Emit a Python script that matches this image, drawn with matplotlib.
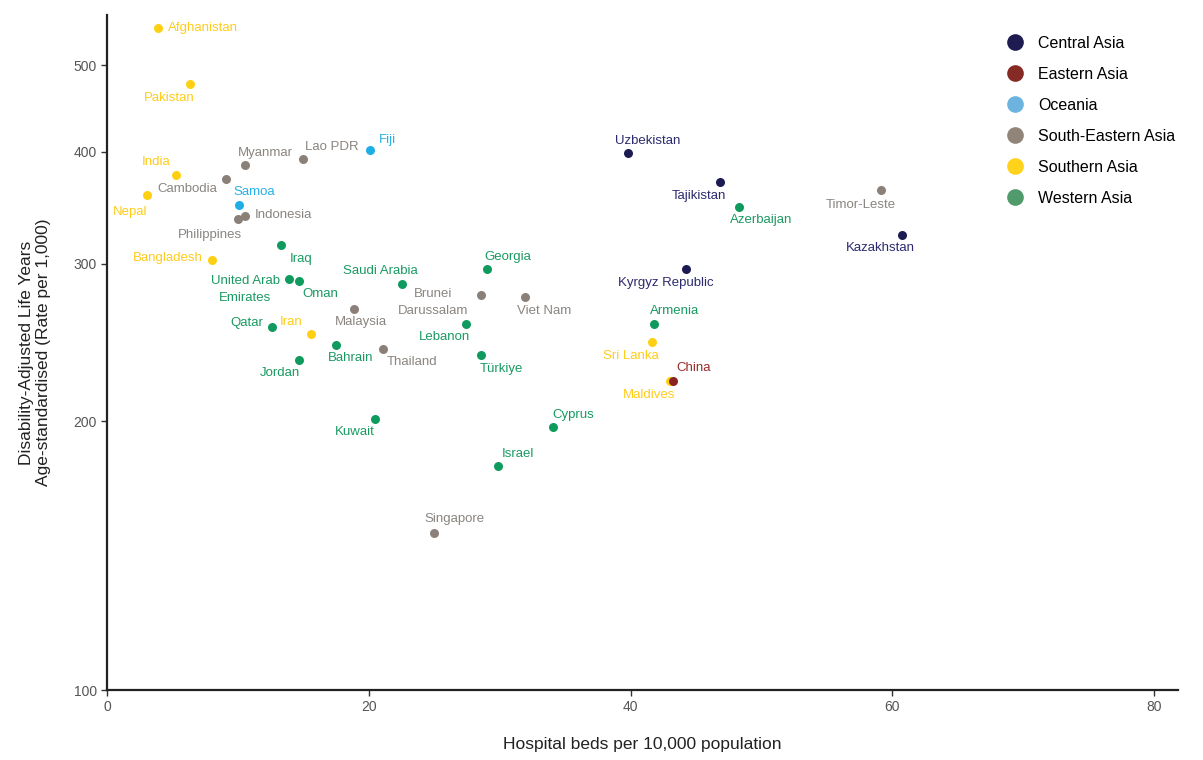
import matplotlib.pyplot as plt
from matplotlib.lines import Line2D

plt.rcParams['font.family'] = ['Liberation Sans', 'DejaVu Sans']

# Hospital beds (per 10,000) vs DALYs (age-standardised rate per 1,000)
countries = ['Afghanistan', 'Pakistan', 'India', 'Nepal', 'Bangladesh', 'Iran',
             'Sri Lanka', 'Maldives', 'China', 'Myanmar', 'Lao PDR', 'Cambodia',
             'Indonesia', 'Philippines', 'Malaysia', 'Thailand', 'Brunei\nDarussalam',
             'Viet Nam', 'Singapore', 'Timor-Leste', 'Samoa', 'Fiji', 'Uzbekistan',
             'Tajikistan', 'Kazakhstan', 'Kyrgyz Republic', 'Azerbaijan', 'Armenia',
             'Georgia', 'Saudi Arabia', 'Iraq', 'United Arab\nEmirates', 'Oman',
             'Qatar', 'Jordan', 'Bahrain', 'Lebanon', 'Türkiye', 'Kuwait', 'Cyprus',
             'Israel']
regions = ['Southern Asia', 'Southern Asia', 'Southern Asia', 'Southern Asia',
           'Southern Asia', 'Southern Asia', 'Southern Asia', 'Southern Asia',
           'Eastern Asia', 'South-Eastern Asia', 'South-Eastern Asia',
           'South-Eastern Asia', 'South-Eastern Asia', 'South-Eastern Asia',
           'South-Eastern Asia', 'South-Eastern Asia', 'South-Eastern Asia',
           'South-Eastern Asia', 'South-Eastern Asia', 'South-Eastern Asia',
           'Oceania', 'Oceania', 'Central Asia', 'Central Asia', 'Central Asia',
           'Central Asia', 'Western Asia', 'Western Asia', 'Western Asia',
           'Western Asia', 'Western Asia', 'Western Asia', 'Western Asia',
           'Western Asia', 'Western Asia', 'Western Asia', 'Western Asia',
           'Western Asia', 'Western Asia', 'Western Asia', 'Western Asia']
beds = [3.9, 6.3, 5.3, 3.05, 8.0, 15.6, 41.6, 43.0, 43.2, 10.5, 15.0, 9.1,
        10.5, 10.0, 18.9, 21.1, 28.6, 31.9, 25.0, 59.1, 10.1, 20.1, 39.8,
        46.8, 60.7, 44.2, 48.3, 41.8, 29.0, 22.5, 13.3, 13.9, 14.7, 12.6,
        14.7, 17.5, 27.4, 28.6, 20.5, 34.1, 29.9]
daly = [551, 477, 377, 358, 303, 250, 245, 222, 222, 387, 393, 373, 339, 337,
        267, 241, 277, 275, 150, 363, 349, 402, 399, 370, 323, 296, 347, 257,
        296, 285, 315, 288, 287, 255, 234, 243, 257, 237, 201, 197, 178]

region_order = ['Central Asia', 'Eastern Asia', 'Oceania', 'South-Eastern Asia',
                'Southern Asia', 'Western Asia']
point_colors = {'Central Asia': '#1c1a52', 'Eastern Asia': '#8a2320',
                'Oceania': '#1eaee6', 'South-Eastern Asia': '#8a8078',
                'Southern Asia': '#ffcf14', 'Western Asia': '#0f9a5e'}
label_colors = {'Central Asia': '#2c2a6e', 'Eastern Asia': '#9a2c2a',
                'Oceania': '#27b0e6', 'South-Eastern Asia': '#8a8580',
                'Southern Asia': '#ffcc1a', 'Western Asia': '#1a9a62'}
legend_colors = {'Central Asia': '#1e1b50', 'Eastern Asia': '#852a25',
                 'Oceania': '#6cb3e0', 'South-Eastern Asia': '#918579',
                 'Southern Asia': '#ffd21c', 'Western Asia': '#509a6c'}

# label placement: (dx, dy) in pixels, horizontal alignment
label_pos = {
    'Afghanistan': (10, 0, 'left'), 'Pakistan': (-20, -14, 'center'),
    'India': (-20, 13, 'center'), 'Nepal': (-17, -17, 'center'),
    'Bangladesh': (-9, 2, 'right'), 'Iran': (-20, 12, 'center'),
    'Sri Lanka': (-21, -14, 'center'), 'Maldives': (-21, -14, 'center'),
    'China': (21, 13, 'center'), 'Myanmar': (21, 12, 'center'),
    'Lao PDR': (28, 12, 'center'), 'Cambodia': (-39, -10, 'center'),
    'Indonesia': (10, 1, 'left'), 'Philippines': (-28, -16, 'center'),
    'Malaysia': (6, -13, 'center'), 'Thailand': (29, -13, 'center'),
    'Brunei\nDarussalam': (-48, -8, 'center'), 'Viet Nam': (20, -14, 'center'),
    'Singapore': (20, 14, 'center'), 'Timor-Leste': (-20, -15, 'center'),
    'Samoa': (15, 13, 'center'), 'Fiji': (17, 10, 'center'),
    'Uzbekistan': (20, 12, 'center'), 'Tajikistan': (-21, -14, 'center'),
    'Kazakhstan': (-21, -13, 'center'), 'Kyrgyz Republic': (-20, -14, 'center'),
    'Azerbaijan': (22, -13, 'center'), 'Armenia': (20, 13, 'center'),
    'Georgia': (21, 12, 'center'), 'Saudi Arabia': (-21, 13, 'center'),
    'Iraq': (20, -14, 'center'), 'United Arab\nEmirates': (-44, -10, 'center'),
    'Oman': (21, -13, 'center'), 'Qatar': (-9, 4, 'right'),
    'Jordan': (-20, -13, 'center'), 'Bahrain': (15, -13, 'center'),
    'Lebanon': (-21, -13, 'center'), 'Türkiye': (20, -14, 'center'),
    'Kuwait': (-21, -13, 'center'), 'Cyprus': (20, 12, 'center'),
    'Israel': (20, 12, 'center'),
}

fig = plt.figure(figsize=(12.03, 7.6), dpi=100)
ax = fig.add_axes([0.089, 0.092, 0.89, 0.888])

for name, reg, x, y in zip(countries, regions, beds, daly):
    ax.scatter(x, y, s=42, color=point_colors[reg], lw=0, zorder=3)
    dx, dy, ha = label_pos[name]
    ax.annotate(name, (x, y), xytext=(dx, dy), textcoords='offset pixels',
                ha=ha, va='center', multialignment='center', linespacing=1.6,
                fontsize=9.5, color=label_colors[reg], zorder=4)

ax.set_yscale('log')
ax.set_xlim(0, 81.8)
ax.set_ylim(100, 569)
ax.set_xticks([0, 20, 40, 60, 80])
ax.set_yticks([100, 200, 300, 400, 500])
ax.set_yticklabels(['100', '200', '300', '400', '500'])
ax.minorticks_off()
ax.tick_params(axis='both', labelsize=10, labelcolor='#555555', color='#333333',
               length=4, width=1)

for side in ['top', 'right']:
    ax.spines[side].set_visible(False)
for side in ['left', 'bottom']:
    ax.spines[side].set_linewidth(1.6)
    ax.spines[side].set_color('#222222')

ax.set_xlabel('Hospital beds per 10,000 population', fontsize=12.5, labelpad=16,
              color='#222222')
ax.set_ylabel('Disability-Adjusted Life Years\nAge-standardised (Rate per 1,000)',
              fontsize=12.5, labelpad=16, color='#222222')

handles = [Line2D([], [], marker='o', ls='', markersize=12,
                  markerfacecolor=legend_colors[r], markeredgewidth=0)
           for r in region_order]
fig.legend(handles, region_order, loc='upper left', bbox_to_anchor=(0.8255, 0.961),
           frameon=False, fontsize=11.5, labelspacing=1.0, handletextpad=0.4,
           borderaxespad=0)

fig.savefig('out.png', dpi=100)
